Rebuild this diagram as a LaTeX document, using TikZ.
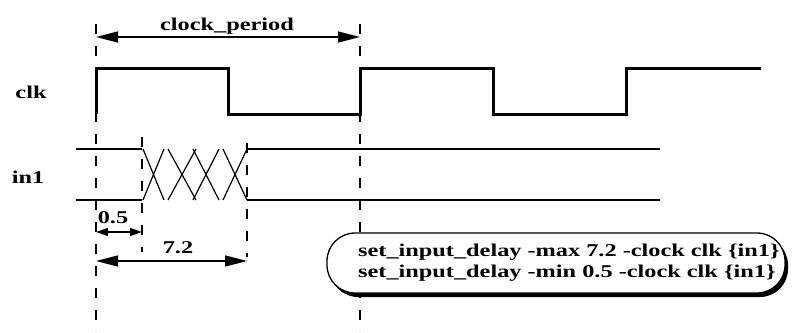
\documentclass[tikz,border=0pt]{standalone}
\usepackage{fontspec}
\setmainfont{Liberation Serif}[FakeStretch=1.35]
\usetikzlibrary{arrows.meta, shadows, positioning}

\begin{document}
\begin{tikzpicture}[
    x=1pt, y=-1pt,
    lbl/.style = {font=\fontsize{18}{20.7}\selectfont\bfseries, inner sep=0pt},
    wave/.style = {line width=3pt, line join=miter},
    sig/.style = {line width=1.2pt},
    guide/.style = {line width=1.3pt, dash pattern=on 10pt off 12pt},
    dimline/.style = {line width=1.4pt, {Triangle[length=22pt, width=11pt]}-{Triangle[length=22pt, width=11pt]}},
    dimshort/.style = {line width=1.4pt, {Triangle[length=12pt, width=8pt]}-{Triangle[length=12pt, width=8pt]}},
    cmdbox/.style = {rectangle, draw, fill=white, line width=1.3pt, rounded corners=28pt, minimum width=458pt, minimum height=60pt, drop shadow={shadow xshift=3pt, shadow yshift=-4pt, fill=black, opacity=1}}
]
    \useasboundingbox (0,0) rectangle (792,332);

    % Time markers
    \coordinate (pStart) at (96,37);
    \coordinate (pEnd) at (360,37);
    \coordinate (minStart) at (96,232);
    \coordinate (minEnd) at (142,232);
    \coordinate (maxStart) at (96,261);
    \coordinate (maxEnd) at (247,261);

    % Dashed guides
    \draw [guide] (96,24) -- (96,332);
    \draw [guide] (360,24) -- (360,332);
    \draw [guide] (142,137) -- (142,252);
    \draw [guide] (247,143) -- (247,257);

    % Labels
    \node (clklbl) [lbl, anchor=base] at (31,98) {clk};
    \node (inlbl) [lbl, anchor=base] at (28,183) {in1};
    \node (period) [lbl, anchor=base] at (227,30) {clock\_period};
    \node (minlbl) [lbl, anchor=base] at (113,223) {0.5};
    \node (maxlbl) [lbl, anchor=base] at (178,253) {7.2};

    % clk waveform
    \draw [wave] (96,114) -- (96,68) -- (228,68) -- (228,114) -- (360,114) -- (360,68)
        -- (493,68) -- (493,114) -- (626,114) -- (626,68) -- (761,68);

    % in1 waveform
    \draw [sig] (76,149) -- (142,149);
    \draw [sig] (76,200) -- (142,200);
    \foreach \a/\b in {143/164, 168/196, 193/219, 223/247}
        \draw [sig] (\a,149) -- (\b,200) (\a,200) -- (\b,149);
    \draw [sig] (247,149) -- (660,149);
    \draw [sig] (247,200) -- (660,200);

    % Dimensions
    \draw [dimline] (pStart) -- (pEnd);
    \draw [dimshort] (minStart) -- (minEnd);
    \draw [dimline] (maxStart) -- (maxEnd);

    % Constraints
    \node (cmd) [cmdbox] at (556,263) {};
    \node (cmdtext) [lbl, align=left, anchor=west] at (358,263) {set\_input\_delay -max 7.2 -clock clk \{in1\}\\set\_input\_delay -min 0.5 -clock clk \{in1\}};

\end{tikzpicture}
\end{document}
